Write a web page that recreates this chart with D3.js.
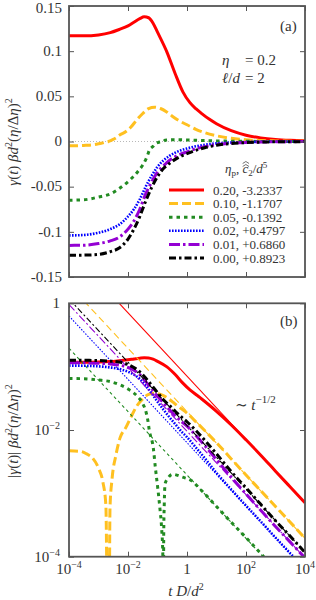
<!DOCTYPE html>
<html>
<head>
<meta charset="utf-8">
<script src="https://cdn.jsdelivr.net/npm/d3@7"></script>
<style>
  body { margin: 0; background: #fff; }
  svg text { font-family: "Liberation Serif", "DejaVu Serif", serif; fill: #333; }
</style>
</head>
<body>
<svg id="chart" width="316" height="600"></svg>
<script>
// legend labels
const etaP = ["0.20", "0.10", "0.05", "0.02", "0.01", "0.00"];
const c2 = ["-3.2337", "-1.1707", "-0.1392", "+0.4797", "+0.6860", "+0.8923"];

// log10(t D/d^2) and gamma(t) beta d^2 (eta/Delta eta)^2
const tRed = [-4, -3.5, -3, -2.6, -2.3, -2, -1.8, -1.6, -1.45, -1.3, -1.15, -1, -0.68, -0.4, -0.14, 0.1, 0.3, 0.5, 0.75, 1, 1.5, 2, 2.5, 3, 3.5, 4];
const gRed = [0.117, 0.117, 0.118, 0.1205, 0.124, 0.128, 0.132, 0.136, 0.138, 0.137, 0.131, 0.121, 0.099, 0.075, 0.055, 0.043, 0.0363, 0.0309, 0.0248, 0.0197, 0.0120, 0.0070, 0.0040, 0.00224, 0.00126, 0.00071];

const tYellow = [-4, -3.6, -3.4, -3.2, -3, -2.85, -2.75, -2.66, -2.61, -2.54, -2.41, -2.27, -2.07, -1.9, -1.7, -1.5, -1.3, -1.1, -0.9, -0.7, -0.5, -0.27, 0, 0.3, 0.6, 1, 1.5, 2, 2.5, 3, 3.5, 4];
const gYellow = [-0.0047, -0.0046, -0.0042, -0.0036, -0.0025, -0.0015, -0.00065, 0, 0.0006, 0.0017, 0.004, 0.0075, 0.011, 0.016, 0.024, 0.031, 0.0365, 0.038, 0.0365, 0.033, 0.028, 0.023, 0.0185, 0.0135, 0.0098, 0.0063, 0.0035, 0.00195, 0.0011, 0.00062, 0.00035, 0.000195];

const tGreen = [-4, -3.5, -3, -2.6, -2.25, -1.95, -1.67, -1.5, -1.39, -1.33, -1.28, -1.14, -1.07, -0.99, -0.92, -0.86, -0.82, -0.8, -0.79, -0.77, -0.745, -0.66, -0.49, -0.15, 0.14, 0.5, 1, 1.5, 2, 2.6, 3, 4];
const gGreen = [-0.065, -0.0645, -0.0615, -0.058, -0.051, -0.043, -0.0335, -0.026, -0.0194, -0.0144, -0.010, -0.0051, -0.0025, -0.0012, -0.00059, -0.00028, -0.00011, 0, 0.0002, 0.0007, 0.0014, 0.0017, 0.0020, 0.0018, 0.0016, 0.0011, 0.00062, 0.00035, 0.0002, 0.0001, 0.000062, 0.00002];

const tGrid = [-4, -3.5, -3, -2.6, -2.3, -2, -1.8, -1.6, -1.4, -1.2, -1, -0.8, -0.6, -0.4, -0.2, 0, 0.3, 0.6, 1, 1.5, 2, 2.5, 3, 3.5, 4];
const gBlue = [-0.104, -0.1035, -0.101, -0.097, -0.092, -0.083, -0.075, -0.064, -0.050, -0.038, -0.028, -0.021, -0.016, -0.0124, -0.0096, -0.0077, -0.0053, -0.0036, -0.0021, -0.00115, -0.00064, -0.00036, -0.0002, -0.000113, -0.000064];
const gPurple = [-0.115, -0.1148, -0.113, -0.110, -0.106, -0.097, -0.088, -0.075, -0.058, -0.045, -0.034, -0.027, -0.021, -0.0168, -0.0138, -0.0115, -0.0082, -0.0057, -0.0034, -0.0018, -0.00098, -0.00054, -0.0003, -0.00017, -0.0000955];
const gBlack = [-0.126, -0.1258, -0.125, -0.122, -0.118, -0.108, -0.097, -0.083, -0.066, -0.051, -0.039, -0.030, -0.0245, -0.0198, -0.0162, -0.0135, -0.0098, -0.0069, -0.0042, -0.0022, -0.00122, -0.00067, -0.00037, -0.00021, -0.000117];

// ~ t^-1/2 asymptotes: |gamma| at t = 1e-4 and at t = 1e4
const asymLeft = [7.08, 1.95, 0.195, 0.63, 0.955, 1.175];
const asymRight = [7.08e-4, 1.95e-4, 1.95e-5, 6.3e-5, 9.55e-5, 1.175e-4];

const xTicks = [1e-4, 1e-2, 1, 1e2, 1e4];
const xTickExp = ["-4", "-2", "", "2", "4"];
const yTicksA = [0.15, 0.1, 0.05, 0, -0.05, -0.1, -0.15];
const yTickLabelsA = ["0.15", "0.1", "0.05", "0", "-0.05", "-0.1", "-0.15"];
const yTicksB = [1, 1e-2, 1e-4];
const yTickExpB = ["", "-2", "-4"];

const colors = ["#ff0000", "#ffc020", "#228b22", "#0000ff", "#9400d3", "#000000"];
const dashThick = [null, "9,4", "3.5,4", "1.6,1.4", "11,3,2.5,3", "7,3,2.5,3"];
const dashThin = [null, "7,4", "3,3", "1.5,1.5", "8,2.5,2,2.5", "6,2.5,2,2.5"];
const widthThick = [3, 3, 3, 2.6, 3, 3];

const series = [
  [tRed, gRed], [tYellow, gYellow], [tGreen, gGreen],
  [tGrid, gBlue], [tGrid, gPurple], [tGrid, gBlack]
].map(([t, g], i) => ({
  pts: t.map((lt, j) => ({ t: Math.pow(10, lt), g: g[j] })),
  i
}));

const svg = d3.select("#chart");
const left = 69, right = 305;
const topA = 6, botA = 277, topB = 303.3, botB = 556.7;
const frameColor = "#555";

const x = d3.scaleLog().domain([1e-4, 1e4]).range([left, right]);
const yA = d3.scaleLinear().domain([-0.15, 0.15]).range([botA, topA]);
const yB = d3.scaleLog().domain([1e-4, 1]).range([botB, topB]);

const defs = svg.append("defs");
defs.append("clipPath").attr("id", "clipA").append("rect")
  .attr("x", left).attr("y", topA).attr("width", right - left).attr("height", botA - topA);
defs.append("clipPath").attr("id", "clipB").append("rect")
  .attr("x", left).attr("y", topB).attr("width", right - left).attr("height", botB - topB);

// ---- panel (a)
const gA = svg.append("g").attr("clip-path", "url(#clipA)");
gA.append("line")
  .attr("x1", left).attr("x2", right).attr("y1", yA(0)).attr("y2", yA(0))
  .attr("stroke", "#999").attr("stroke-width", 0.7).attr("stroke-dasharray", "1,2");

const lineA = d3.line().x(d => x(d.t)).y(d => yA(d.g)).curve(d3.curveMonotoneX);
series.forEach(s => {
  gA.append("path").datum(s.pts)
    .attr("d", lineA)
    .attr("fill", "none")
    .attr("stroke", colors[s.i])
    .attr("stroke-width", widthThick[s.i])
    .attr("stroke-dasharray", dashThick[s.i]);
});

// ---- panel (b)
const gB = svg.append("g").attr("clip-path", "url(#clipB)");
const lineB = d3.line().x(d => x(d.t)).y(d => yB(Math.max(Math.abs(d.g), 1e-7))).curve(d3.curveMonotoneX);
const asymLine = d3.line().x(d => x(d.t)).y(d => yB(d.g));
series.forEach(s => {
  gB.append("path").datum(s.pts)
    .attr("d", lineB)
    .attr("fill", "none")
    .attr("stroke", colors[s.i])
    .attr("stroke-width", widthThick[s.i])
    .attr("stroke-dasharray", dashThick[s.i]);
  gB.append("path")
    .datum([{ t: 1e-4, g: asymLeft[s.i] }, { t: 1e4, g: asymRight[s.i] }])
    .attr("d", asymLine)
    .attr("fill", "none")
    .attr("stroke", colors[s.i])
    .attr("stroke-width", 1.1)
    .attr("stroke-dasharray", dashThin[s.i]);
});

// ---- frames and ticks
function frame(y0, y1, yScale, yTicks) {
  const axes = [
    [d3.axisBottom(x).tickValues(xTicks), `translate(0,${y0})`],
    [d3.axisTop(x).tickValues(xTicks), `translate(0,${y1})`],
    [d3.axisRight(yScale).tickValues(yTicks), `translate(${left},0)`],
    [d3.axisLeft(yScale).tickValues(yTicks), `translate(${right},0)`]
  ];
  axes.forEach(([ax, tr]) => {
    const g = svg.append("g").attr("transform", tr).attr("color", frameColor)
      .call(ax.tickSize(5).tickFormat(""));
    g.select(".domain").remove();
    g.selectAll("line").attr("stroke-width", 1);
  });
  svg.append("rect")
    .attr("x", left).attr("y", y0).attr("width", right - left).attr("height", y1 - y0)
    .attr("fill", "none").attr("stroke", frameColor).attr("stroke-width", 1.8);
}
frame(topA, botA, yA, yTicksA);
frame(topB, botB, yB, yTicksB);

// ---- tick labels
svg.append("g").selectAll("text").data(yTicksA).join("text")
  .attr("x", 62).attr("y", d => Math.max(yA(d) + 4.8, 12.5))
  .attr("text-anchor", "end").attr("font-size", 15)
  .text((d, i) => yTickLabelsA[i]);

yTicksB.forEach((v, i) => {
  const t = svg.append("text").attr("x", 60).attr("y", yB(v) + 5)
    .attr("text-anchor", "end").attr("font-size", 15);
  if (yTickExpB[i] === "") { t.text("1"); return; }
  t.append("tspan").text("10");
  t.append("tspan").attr("font-size", 10).attr("dy", -6).text(yTickExpB[i].replace("-", "\u2212"));
});

xTicks.forEach((v, i) => {
  const t = svg.append("text").attr("x", x(v)).attr("y", 574)
    .attr("text-anchor", "middle").attr("font-size", 15);
  if (xTickExp[i] === "") { t.text("1"); return; }
  t.append("tspan").text("10");
  t.append("tspan").attr("font-size", 10).attr("dy", -6).text(xTickExp[i].replace("-", "\u2212"));
});

// ---- axis titles
const xt = svg.append("text").attr("x", 186).attr("y", 596)
  .attr("text-anchor", "middle").attr("font-size", 15);
xt.append("tspan").attr("font-style", "italic").text("t");
xt.append("tspan").text(" ");
xt.append("tspan").attr("font-style", "italic").text("D");
xt.append("tspan").text("/");
xt.append("tspan").attr("font-style", "italic").text("d");
xt.append("tspan").attr("font-size", 10).attr("dy", -6).text("2");

function yTitle(cy, absBars) {
  const t = svg.append("text")
    .attr("transform", `translate(18,${cy}) rotate(-90)`)
    .attr("text-anchor", "middle").attr("font-size", 15);
  if (absBars) t.append("tspan").text("|");
  t.append("tspan").attr("font-style", "italic").text("\u03b3");
  t.append("tspan").text("(");
  t.append("tspan").attr("font-style", "italic").text("t");
  t.append("tspan").text(")");
  if (absBars) t.append("tspan").text("|");
  t.append("tspan").text(" ");
  t.append("tspan").attr("font-style", "italic").text("\u03b2d");
  t.append("tspan").attr("font-size", 10).attr("dy", -6).text("2");
  t.append("tspan").attr("dy", 6).text("(");
  t.append("tspan").attr("font-style", "italic").text("\u03b7");
  t.append("tspan").text("/\u0394");
  t.append("tspan").attr("font-style", "italic").text("\u03b7");
  t.append("tspan").text(")");
  t.append("tspan").attr("font-size", 10).attr("dy", -6).text("2");
}
yTitle(142, false);
yTitle(431, true);

// ---- annotations
svg.append("text").attr("x", 280).attr("y", 31).attr("font-size", 15).text("(a)");
svg.append("text").attr("x", 280).attr("y", 326).attr("font-size", 15).text("(b)");

svg.append("text").attr("x", 222).attr("y", 65).attr("font-size", 15)
  .attr("font-style", "italic").text("\u03b7");
svg.append("text").attr("x", 245).attr("y", 65).attr("font-size", 15).text("= 0.2");
const ld = svg.append("text").attr("x", 222).attr("y", 83).attr("font-size", 15);
ld.append("tspan").attr("font-style", "italic").text("\u2113");
ld.append("tspan").text("/");
ld.append("tspan").attr("font-style", "italic").text("d");
svg.append("text").attr("x", 245).attr("y", 83).attr("font-size", 15).text("= 2");

const tp = svg.append("text").attr("x", 235).attr("y", 410).attr("font-size", 15);
tp.append("tspan").text("\u223c ");
tp.append("tspan").attr("font-style", "italic").text("t");
tp.append("tspan").attr("font-size", 11).attr("dy", -7).text("\u22121/2");

// ---- legend
const lt = svg.append("text").attr("x", 225).attr("y", 173).attr("font-size", 13);
lt.append("tspan").attr("font-style", "italic").text("\u03b7");
lt.append("tspan").attr("font-size", 9).attr("dy", 3).text("p");
lt.append("tspan").attr("dy", -3).text(", ");
lt.append("tspan").attr("font-style", "italic").text("c");
lt.append("tspan").attr("font-size", 9).attr("dy", 3).text("2");
lt.append("tspan").attr("dy", -3).text("/");
lt.append("tspan").attr("font-style", "italic").text("d");
lt.append("tspan").attr("font-size", 9).attr("dy", -5).text("5");
const cBox = lt.node().getExtentOfChar(4);
const cx = cBox.x + cBox.width / 2 + 0.5;
[164.5, 161.5].forEach(hy => {
  svg.append("path")
    .attr("d", `M${cx - 3.2},${hy + 2}L${cx},${hy}L${cx + 3.2},${hy + 2}`)
    .attr("fill", "none").attr("stroke", "#333").attr("stroke-width", 0.7);
});

const legY = d3.scaleLinear().domain([0, 5]).range([190, 258]);
etaP.forEach((e, i) => {
  svg.append("line")
    .attr("x1", 169).attr("x2", 204).attr("y1", legY(i)).attr("y2", legY(i))
    .attr("stroke", colors[i]).attr("stroke-width", widthThick[i])
    .attr("stroke-dasharray", dashThick[i]);
  svg.append("text").attr("x", 213).attr("y", legY(i) + 4.5)
    .attr("font-size", 13).text(`${e}, ${c2[i]}`);
});
</script>
</body>
</html>
